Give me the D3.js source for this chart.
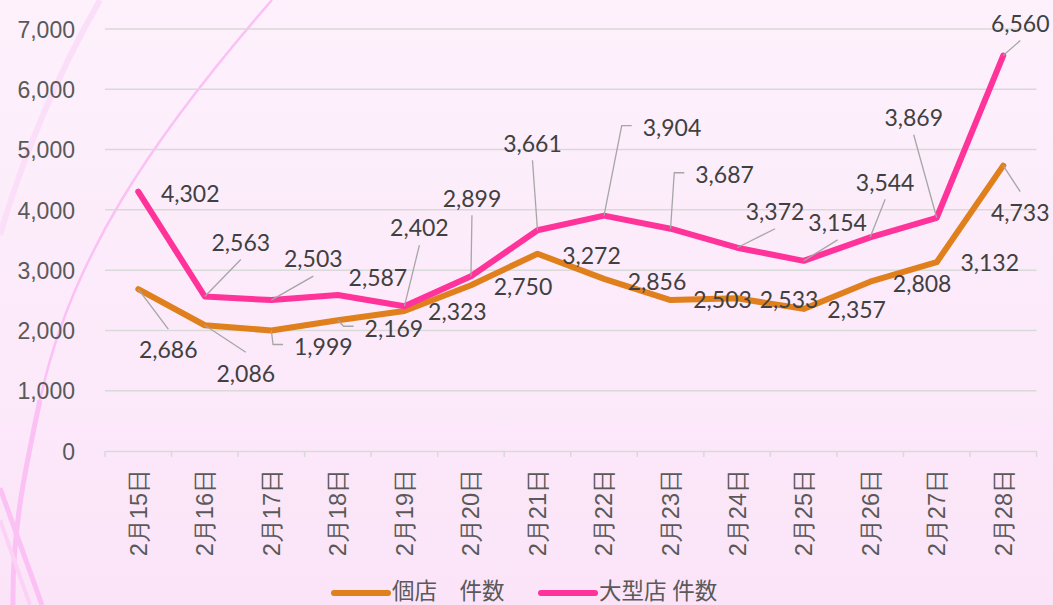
<!DOCTYPE html>
<meta charset="utf-8">
<title>件数</title>
<style>
body {
  margin: 0px;
  overflow: hidden;
}
svg {
  display: block;
  font-family: Lato, "Noto Sans CJK JP", sans-serif;
}
.grid line {
  stroke: #d9d9d9;
  stroke-width: 1.5;
}
.axis text {
  fill: #595959;
  font-size: 23px;
}
.xlab text {
  font-weight: 300;
  font-size: 23.5px;
}
.lbl {
  fill: #404040;
  font-size: 23px;
}
.leader {
  fill: none;
  stroke: #a6a6a6;
  stroke-width: 1.3;
}
</style>
<script src="https://d3js.org/d3.v7.min.js"></script>
<body>
<script>
var width = 1053, height = 605;

var days = ["2月15日", "2月16日", "2月17日", "2月18日", "2月19日", "2月20日", "2月21日",
            "2月22日", "2月23日", "2月24日", "2月25日", "2月26日", "2月27日", "2月28日"];
var kotenCount = [2686, 2086, 1999, 2169, 2323, 2750, 3272, 2856, 2503, 2533, 2357, 2808, 3132, 4733];
var ogataCount = [4302, 2563, 2503, 2587, 2402, 2899, 3661, 3904, 3687, 3372, 3154, 3544, 3869, 6560];
var yTicks = [0, 1000, 2000, 3000, 4000, 5000, 6000, 7000];

// label placement (offset from the point, leader type: b=bottom, t=top, l=elbow, ""=none)
var kotenLabelPos = [[30, 61, "t"], [41, 48, "t"], [52, 16, "l"], [56, 8, "l"], [53, 1, ""], [52, 2, ""], [54, 2, ""],
                     [53, 3, ""], [52, 0, ""], [52, 1, ""], [53, 1, ""], [52, 2, ""], [53, 1, ""], [17, 47, "t"]];
var ogataLabelPos = [[52, 2, ""], [36, -54, "b"], [42, -41, "b"], [40, -17, ""], [15, -78, "b"], [1, -78, "b"], [-5, -87, "b"],
                     [68, -88, "l"], [54, -54, "l"], [38, -36, "b"], [34, -38, "b"], [15, -55, "b"], [-23, -100, "b"], [17, -32, "b"]];

var series = [
  {name: "個店\u3000件数", values: kotenCount, color: "#e0801c", pos: kotenLabelPos},
  {name: "大型店 件数", values: ogataCount, color: "#ff3399", pos: ogataLabelPos}
];

var svg = d3.select("body").append("svg")
    .attr("width", width)
    .attr("height", height);

// background
var defs = svg.append("defs");
var grad = defs.append("linearGradient").attr("id", "bg")
    .attr("x1", 0).attr("y1", 0).attr("x2", 0).attr("y2", 1);
grad.append("stop").attr("offset", 0).attr("stop-color", "#fdf1fc");
grad.append("stop").attr("offset", 1).attr("stop-color", "#fbe4f8");
svg.append("rect").attr("width", width).attr("height", height).attr("fill", "url(#bg)");

var deco = svg.append("g").attr("fill", "none");
deco.append("path").attr("d", "M100,0 C60,70 25,150 0,235")
    .attr("stroke", "#fbdff8").attr("stroke-width", 6);
deco.append("path").attr("d", "M272,0 C150,140 70,260 40,400")
    .attr("stroke", "#fbc0f4").attr("stroke-width", 2.5);
deco.append("path").attr("d", "M40,400 C25,470 12,530 13,605")
    .attr("stroke", "#fbc0f4").attr("stroke-width", 5);
deco.append("path").attr("d", "M0,488 L42,605")
    .attr("stroke", "#fbc0f4").attr("stroke-width", 5);
deco.append("path").attr("d", "M0,520 L30,605")
    .attr("stroke", "#fbd2f6").attr("stroke-width", 4);

var x = d3.scaleBand().domain(d3.range(days.length)).range([105, 1036.5]);
var y = d3.scaleLinear().domain([0, 7000]).range([451, 29]);
function px(i) { return x(i) + x.bandwidth() / 2; }

// gridlines
svg.append("g").attr("class", "grid")
    .selectAll("line")
    .data(yTicks.slice(1))
  .enter().append("line")
    .attr("x1", 105).attr("x2", 1036.5)
    .attr("y1", function(d) { return y(d); })
    .attr("y2", function(d) { return y(d); });

// y axis
var yAxis = svg.append("g").attr("class", "axis")
    .attr("transform", "translate(75,0)")
    .call(d3.axisLeft(y).tickValues(yTicks).tickSize(0).tickPadding(0).tickFormat(d3.format(",")));
yAxis.select(".domain").remove();
yAxis.selectAll("text").attr("dy", "0.36em");

// x axis
var xAxis = svg.append("g").attr("class", "axis xlab")
    .attr("transform", "translate(0," + y(0) + ")")
    .call(d3.axisBottom(x).tickSize(0).tickFormat(function(i) { return days[i]; }));
xAxis.select(".domain").attr("stroke", "#d9d9d9").attr("stroke-width", 1.5);
xAxis.selectAll("text")
    .attr("transform", "rotate(-90)")
    .attr("x", -18).attr("y", 0).attr("dy", "0.36em")
    .style("text-anchor", "end");
svg.append("g").selectAll("line")
    .data(d3.range(days.length + 1))
  .enter().append("line")
    .attr("x1", function(d) { return 105 + d * x.bandwidth(); })
    .attr("x2", function(d) { return 105 + d * x.bandwidth(); })
    .attr("y1", y(0)).attr("y2", y(0) + 6)
    .attr("stroke", "#d9d9d9").attr("stroke-width", 1.5);

// lines
var line = d3.line()
    .x(function(d, i) { return px(i); })
    .y(function(d) { return y(d); });

svg.append("g").selectAll("path")
    .data(series)
  .enter().append("path")
    .attr("d", function(s) { return line(s.values); })
    .attr("fill", "none")
    .attr("stroke", function(s) { return s.color; })
    .attr("stroke-width", 6)
    .attr("stroke-linejoin", "round")
    .attr("stroke-linecap", "round");

// data labels with leader lines
var fmt = d3.format(",");
var leaders = svg.append("g");
var labels = svg.append("g");
series.forEach(function(s) {
  s.values.forEach(function(v, i) {
    var p = s.pos[i];
    var x0 = px(i), y0 = y(v);
    var cx = x0 + p[0], cy = y0 + p[1];
    var t = labels.append("text").attr("class", "lbl")
        .attr("x", cx).attr("y", cy).attr("dy", "0.36em")
        .attr("text-anchor", "middle")
        .text(fmt(v));
    var w = t.node().getComputedTextLength();
    var pts = null;
    if (p[2] === "b") pts = [[x0, y0], [cx, cy + 17]];
    if (p[2] === "t") pts = [[x0, y0], [cx, cy - 21]];
    if (p[2] === "l") {
      var left = cx - w / 2;
      pts = [[x0, y0], [left - 21, cy - 2], [left - 11, cy - 2]];
    }
    if (pts) {
      leaders.append("path").attr("class", "leader").attr("d", d3.line()(pts));
    }
  });
});

// legend
var legend = svg.append("g").selectAll("g")
    .data(series)
  .enter().append("g")
    .attr("transform", function(d, i) { return "translate(" + (i === 0 ? 334 : 541) + ",593)"; });
legend.append("line")
    .attr("x1", 0).attr("x2", 54)
    .attr("stroke", function(d) { return d.color; })
    .attr("stroke-width", 6)
    .attr("stroke-linecap", "round");
legend.append("text")
    .attr("x", 58).attr("y", -2).attr("dy", "0.36em")
    .attr("fill", "#595959")
    .style("font-size", "22.5px")
    .text(function(d) { return d.name; });
</script>
